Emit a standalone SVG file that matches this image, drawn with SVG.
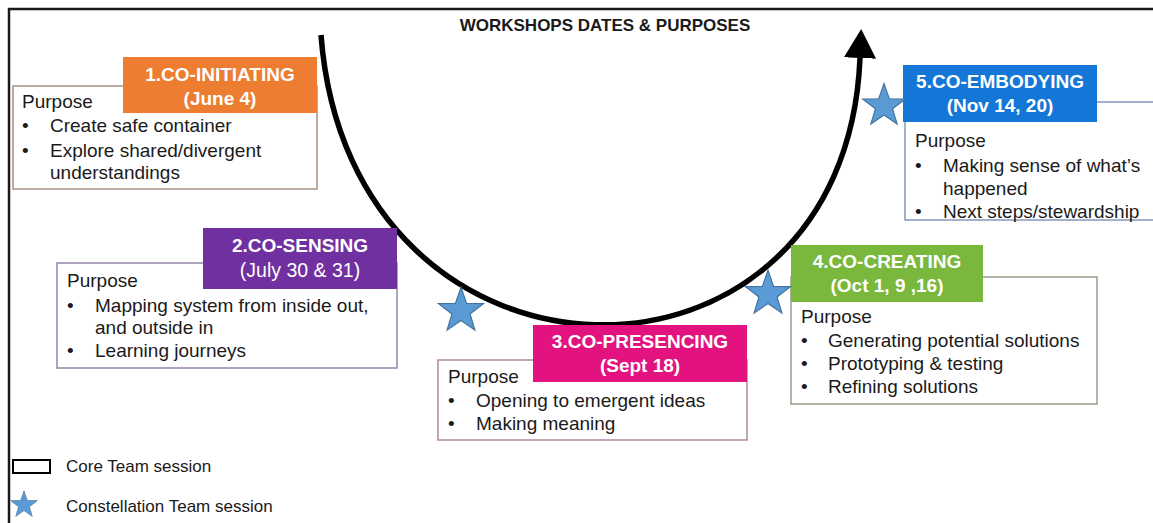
<svg xmlns="http://www.w3.org/2000/svg" width="1153" height="523" viewBox="0 0 1153 523">
<style>
  text { font-family: "Liberation Sans", Arial, sans-serif; fill: #1a1a1a; }
  .hd { font-weight: bold; font-size: 19px; fill: #ffffff; text-anchor: middle; }
  .hdn { font-size: 19.5px; fill: #ffffff; text-anchor: middle; }
  .bd { font-size: 19px; }
  .box { fill: #ffffff; stroke-width: 1.5; }
  .star { fill: #5B9BD5; stroke: #41719C; stroke-width: 1.2; }
  .title { font-weight: bold; font-size: 17px; text-anchor: middle; }
  .leg { font-size: 17px; }
</style>
<defs>
  <path id="star" d="M0,-25 L5.88,-8.09 L23.78,-7.73 L9.51,3.09 L14.69,20.23 L0,10 L-14.69,20.23 L-9.51,3.09 L-23.78,-7.73 L-5.88,-8.09 Z"/>
  <marker id="arrow" markerUnits="userSpaceOnUse" markerWidth="30" markerHeight="34" refX="0" refY="15" orient="auto" viewBox="0 0 28 30">
    <path d="M0,0 L27,15 L0,30 Z" fill="#000000"/>
  </marker>
</defs>
<rect width="1153" height="523" fill="#ffffff"/>
<path d="M9,523 V9 H1153" fill="none" stroke="#1a1a1a" stroke-width="2.5"/>
<text class="title" x="605" y="31">WORKSHOPS DATES &amp; PURPOSES</text>

<g id="connectors">
  <path d="M321,35 C350,415 845,420 860,58" fill="none" stroke="#000000" stroke-width="5.5" marker-end="url(#arrow)"/>
</g>

<g id="node1">
  <rect class="box" x="13" y="86" width="304" height="103" stroke="#A89084"/>
  <rect x="123" y="57" width="194" height="56" fill="#ED7D31"/>
  <text class="hd" x="220" y="81">1.CO-INITIATING</text>
  <text class="hd" x="220" y="105">(June 4)</text>
  <text class="bd" x="22" y="108">Purpose</text>
  <text class="bd" x="22" y="132">•</text>
  <text class="bd" x="50" y="132">Create safe container</text>
  <text class="bd" x="22" y="157">•</text>
  <text class="bd" x="50" y="157">Explore shared/divergent</text>
  <text class="bd" x="50" y="179">understandings</text>
</g>

<g id="node2">
  <rect class="box" x="57" y="263" width="340" height="105" stroke="#9484A8"/>
  <rect x="203" y="228" width="194" height="61" fill="#7030A0"/>
  <text class="hd" x="300" y="252">2.CO-SENSING</text>
  <text class="hdn" x="300" y="277">(July 30 &amp; 31)</text>
  <text class="bd" x="67" y="287">Purpose</text>
  <text class="bd" x="67" y="312">•</text>
  <text class="bd" x="95" y="312">Mapping system from inside out,</text>
  <text class="bd" x="95" y="334">and outside in</text>
  <text class="bd" x="67" y="357">•</text>
  <text class="bd" x="95" y="357">Learning journeys</text>
</g>

<g id="node3">
  <rect class="box" x="438" y="360" width="309" height="80" stroke="#B08898"/>
  <rect x="533" y="325" width="214" height="57" fill="#E2137E"/>
  <text class="hd" x="640" y="348">3.CO-PRESENCING</text>
  <text class="hd" x="640" y="372">(Sept 18)</text>
  <text class="bd" x="448" y="383">Purpose</text>
  <text class="bd" x="448" y="407">•</text>
  <text class="bd" x="476" y="407">Opening to emergent ideas</text>
  <text class="bd" x="448" y="430">•</text>
  <text class="bd" x="476" y="430">Making meaning</text>
</g>

<g id="node4">
  <rect class="box" x="791" y="277" width="306" height="127" stroke="#94A088"/>
  <rect x="791" y="245" width="192" height="57" fill="#79B83C"/>
  <text class="hd" x="887" y="268">4.CO-CREATING</text>
  <text class="hd" x="887" y="292">(Oct 1, 9 ,16)</text>
  <text class="bd" x="801" y="323">Purpose</text>
  <text class="bd" x="801" y="347">•</text>
  <text class="bd" x="828" y="347">Generating potential solutions</text>
  <text class="bd" x="801" y="370">•</text>
  <text class="bd" x="828" y="370">Prototyping &amp; testing</text>
  <text class="bd" x="801" y="393">•</text>
  <text class="bd" x="828" y="393">Refining solutions</text>
</g>

<g id="node5">
  <rect class="box" x="905" y="102" width="260" height="118" stroke="#8498B8"/>
  <rect x="903" y="65" width="194" height="57" fill="#1476D6"/>
  <text class="hd" x="1000" y="88">5.CO-EMBODYING</text>
  <text class="hd" x="1000" y="112">(Nov 14, 20)</text>
  <text class="bd" x="915" y="147">Purpose</text>
  <text class="bd" x="915" y="172">•</text>
  <text class="bd" x="943" y="172">Making sense of what’s</text>
  <text class="bd" x="943" y="195">happened</text>
  <text class="bd" x="915" y="218">•</text>
  <text class="bd" x="943" y="218">Next steps/stewardship</text>
</g>

<g id="stars">
  <use href="#star" class="star" transform="translate(884,106) scale(0.9)"/>
  <use href="#star" class="star" transform="translate(461,311) scale(0.95)"/>
  <use href="#star" class="star" transform="translate(768,294) scale(0.95)"/>
</g>

<g id="legend">
  <rect x="13" y="460" width="37" height="13" fill="#ffffff" stroke="#000000" stroke-width="2"/>
  <text class="leg" x="66" y="472">Core Team session</text>
  <use href="#star" class="star" transform="translate(24,505) scale(0.56)"/>
  <text class="leg" x="66" y="512">Constellation Team session</text>
</g>
</svg>
